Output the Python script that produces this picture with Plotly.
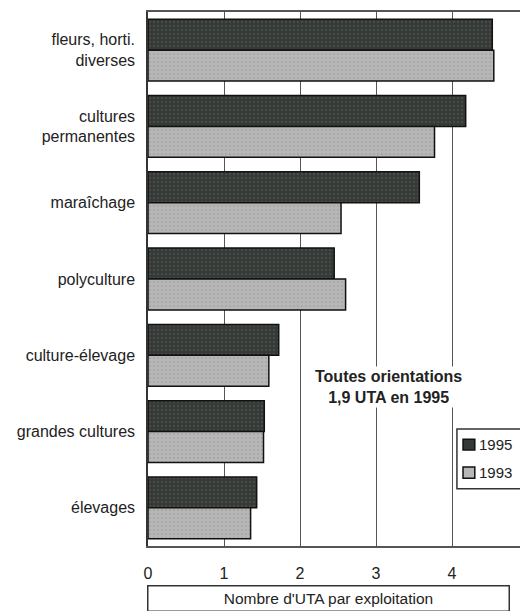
import plotly.graph_objects as go

categories = [
    "fleurs, horti.<br>diverses",
    "cultures<br>permanentes",
    "maraîchage",
    "polyculture",
    "culture-élevage",
    "grandes cultures",
    "élevages",
]
uta_1995 = [4.53, 4.18, 3.57, 2.45, 1.72, 1.53, 1.43]
uta_1993 = [4.55, 3.77, 2.54, 2.60, 1.59, 1.52, 1.35]
x_ticks = [0, 1, 2, 3, 4]
series = ["1995", "1993"]

font = "Liberation Sans, Arial, sans-serif"
dark, light = "#343936", "#b7b7b7"

fig = go.Figure()
fig.add_trace(go.Bar(
    y=categories, x=uta_1995, name=series[0], orientation="h",
    marker=dict(color=dark, line=dict(color="#111", width=1.5),
                pattern=dict(shape=".", fgcolor="#575c59", size=4, solidity=0.3)),
))
fig.add_trace(go.Bar(
    y=categories, x=uta_1993, name=series[1], orientation="h",
    marker=dict(color=light, line=dict(color="#111", width=1.5),
                pattern=dict(shape=".", fgcolor="#9a9a9a", size=4, solidity=0.3)),
))

# page has an 8px body margin, so the figure is 8px smaller than the window
fig.update_layout(
    width=520, height=603,
    barmode="group", bargap=0.19, bargroupgap=0,
    plot_bgcolor="white", paper_bgcolor="white",
    margin=dict(l=140, r=0, t=4, b=65, autoexpand=False),
    font=dict(family=font, size=16, color="#222"),
    showlegend=False,
)
fig.update_xaxes(
    range=[0, 5], tickvals=x_ticks, showgrid=True, gridcolor="#555", gridwidth=1,
    showline=True, linecolor="#555", linewidth=1.5, mirror=True,
    ticks="", ticklabelstandoff=12, zeroline=False, automargin=False,
    tickfont=dict(size=16),
)
fig.update_yaxes(
    autorange="reversed", showline=True, linecolor="#333", linewidth=1.5,
    ticks="", ticklabelstandoff=8, showgrid=False, automargin=False,
)

fig.add_annotation(
    x=3.17, y=4.42, xref="x", yref="y",
    text="<b>Toutes orientations<br>1,9 UTA en 1995</b>",
    showarrow=False, bgcolor="white", font=dict(size=16, color="#222"),
    align="center",
)
fig.add_annotation(
    x=-0.003, xanchor="left", xref="paper", y=-0.073, yanchor="top", yref="paper",
    text="Nombre d'UTA par exploitation", showarrow=False,
    width=358, height=22, bordercolor="#333", borderwidth=1.5,
    font=dict(size=15.5, color="#222"), align="center",
)

# compact boxed legend
fig.add_shape(type="rect", xref="paper", yref="paper", x0=0.813, x1=0.995,
              y0=0.107, y1=0.219, line=dict(color="#333", width=1.5),
              fillcolor="white")
for (name, col), (y0, y1) in zip(zip(series, [dark, light]),
                                 [(0.180, 0.200), (0.127, 0.148)]):
    fig.add_shape(type="rect", xref="paper", yref="paper", x0=0.829, x1=0.860,
                  y0=y0, y1=y1, line=dict(color="#111", width=1.5), fillcolor=col)
    fig.add_annotation(x=0.866, y=(y0 + y1) / 2, xref="paper", yref="paper",
                       xanchor="left", yanchor="middle", text=name,
                       showarrow=False, font=dict(size=15, color="#222"))

fig.write_html("out.html")
